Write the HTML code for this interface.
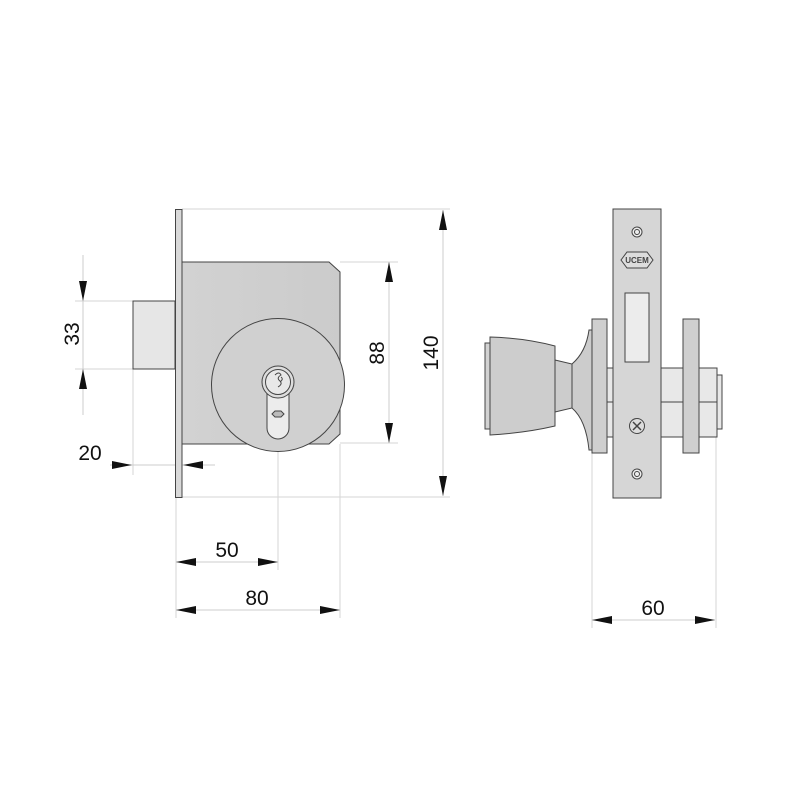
<!DOCTYPE html>
<html><head><meta charset="utf-8"><style>html,body{margin:0;padding:0;background:#fff}svg{display:block}</style></head>
<body>
<svg width="800" height="800" viewBox="0 0 800 800" xmlns="http://www.w3.org/2000/svg" font-family="Liberation Sans, sans-serif">
<defs>
<marker id="a" viewBox="0 0 20 8" refX="20" refY="4" markerWidth="20" markerHeight="8" markerUnits="userSpaceOnUse" orient="auto"><path d="M0,0 L20,4 L0,8 Z" fill="#111"/></marker>
<linearGradient id="g" x1="0" x2="1"><stop offset="0" stop-color="#d2d2d2"/><stop offset="1" stop-color="#cbcbcb"/></linearGradient>
</defs>
<g stroke="#d6d6d6" stroke-width="1" fill="none">
<line x1="182" y1="209" x2="450" y2="209"/>
<line x1="182" y1="497" x2="450" y2="497"/>
<line x1="340" y1="262" x2="398" y2="262"/>
<line x1="340" y1="443" x2="398" y2="443"/>
<line x1="75" y1="301" x2="155" y2="301"/>
<line x1="75" y1="369" x2="133" y2="369"/>
<line x1="133" y1="369" x2="133" y2="475"/>
<line x1="176" y1="498" x2="176" y2="618"/>
<line x1="278" y1="437" x2="278" y2="570"/>
<line x1="340" y1="444" x2="340" y2="618"/>
<line x1="592" y1="453" x2="592" y2="628"/>
<line x1="716" y1="437" x2="716" y2="628"/>
<line x1="83" y1="255" x2="83" y2="415" stroke="#ccc"/>
<line x1="389" y1="262" x2="389" y2="443" stroke="#ccc"/>
<line x1="443" y1="210" x2="443" y2="496" stroke="#ccc"/>
<line x1="110" y1="465" x2="215" y2="465" stroke="#ccc"/>
<line x1="176" y1="562" x2="278" y2="562" stroke="#ccc"/>
<line x1="176" y1="610" x2="340" y2="610" stroke="#ccc"/>
<line x1="592" y1="620" x2="715" y2="620" stroke="#ccc"/>
</g>
<g stroke="none">
<line x1="83" y1="275" x2="83" y2="301" stroke-width="0" marker-end="url(#a)"/>
<line x1="83" y1="395" x2="83" y2="369" stroke-width="0" marker-end="url(#a)"/>
<line x1="389" y1="300" x2="389" y2="262" stroke-width="0" marker-end="url(#a)"/>
<line x1="389" y1="400" x2="389" y2="443" stroke-width="0" marker-end="url(#a)"/>
<line x1="443" y1="250" x2="443" y2="210" stroke-width="0" marker-end="url(#a)"/>
<line x1="443" y1="460" x2="443" y2="496" stroke-width="0" marker-end="url(#a)"/>
<line x1="110" y1="465" x2="132" y2="465" stroke-width="0" marker-end="url(#a)"/>
<line x1="205" y1="465" x2="183" y2="465" stroke-width="0" marker-end="url(#a)"/>
<line x1="210" y1="562" x2="176" y2="562" stroke-width="0" marker-end="url(#a)"/>
<line x1="240" y1="562" x2="278" y2="562" stroke-width="0" marker-end="url(#a)"/>
<line x1="210" y1="610" x2="176" y2="610" stroke-width="0" marker-end="url(#a)"/>
<line x1="300" y1="610" x2="340" y2="610" stroke-width="0" marker-end="url(#a)"/>
<line x1="630" y1="620" x2="592" y2="620" stroke-width="0" marker-end="url(#a)"/>
<line x1="680" y1="620" x2="715" y2="620" stroke-width="0" marker-end="url(#a)"/>
</g>
<g stroke="#444" stroke-width="1">
<rect x="133" y="301" width="42" height="68" fill="#e6e6e6"/>
<rect x="175.5" y="209.5" width="6.5" height="288" fill="#d9d9d9"/>
<path d="M182,262 H329 L340,272 V434 L329,444 H182 Z" fill="url(#g)"/>
<circle cx="278" cy="385" r="66.5" fill="#d0d0d0"/>
<path d="M267,392 V428 A11,11 0 0 0 289,428 V392 Z" fill="#ececec"/>
<circle cx="278" cy="382" r="16" fill="#ddd"/>
<circle cx="278" cy="382" r="12.5" fill="#e8e8e8"/>
<path d="M275,375 q4,-4 6,0 q-5,3 -1,6 q3,3 -2,6 M281,377 q3,2 -1,5" fill="none" stroke-width="1"/>
<path d="M272,414 l3,-3 h6 l3,3 l-3,3 h-6 z" fill="#bbb"/>
</g>
<g stroke="#444" stroke-width="1">
<rect x="607" y="368" width="110" height="69" fill="#e8e8e8"/>
<line x1="607" y1="402" x2="717" y2="402"/>
<rect x="717" y="375" width="5" height="54" fill="#e8e8e8"/>
<path d="M572,364 Q586,352 589,330 H592 V450 H589 Q586,420 572,408 Z" fill="#ccc"/>
<path d="M555,360 L572,364 V408 L555,412 Z" fill="#ccc"/>
<path d="M490,337 Q525,338 555,346 V426 Q525,433 490,435 Z" fill="#cdcdcd"/>
<rect x="485" y="343" width="5" height="86" fill="#d2d2d2"/>
<rect x="592" y="319" width="15" height="134" fill="#cfcfcf"/>
<rect x="683" y="319" width="16" height="134" fill="#cfcfcf"/>
<rect x="613" y="209" width="48" height="289" fill="#d6d6d6"/>
<rect x="625" y="293" width="24" height="69" fill="#ececec"/>
<circle cx="637" cy="232" r="5" fill="#eee"/><circle cx="637" cy="232" r="2.5" fill="none"/>
<circle cx="637" cy="474" r="5" fill="#eee"/><circle cx="637" cy="474" r="2.5" fill="none"/>
<circle cx="637" cy="426" r="7.5" fill="#ddd"/>
<path d="M633,422 L641,430 M641,422 L633,430" stroke-width="1.5"/>
<path d="M621,260 L627,252 H647 L653,260 L647,268 H627 Z" fill="#ddd"/>
</g>
<text x="637" y="263" font-size="8" text-anchor="middle" fill="#444" font-weight="bold">UCEM</text>
<g font-size="21" fill="#111" text-anchor="middle">
<text x="90" y="460">20</text>
<text x="227" y="557">50</text>
<text x="257" y="605">80</text>
<text x="653" y="615">60</text>
<text transform="translate(79,334) rotate(-90)">33</text>
<text transform="translate(384,353) rotate(-90)">88</text>
<text transform="translate(438,353) rotate(-90)">140</text>
</g>
</svg>
</body></html>
